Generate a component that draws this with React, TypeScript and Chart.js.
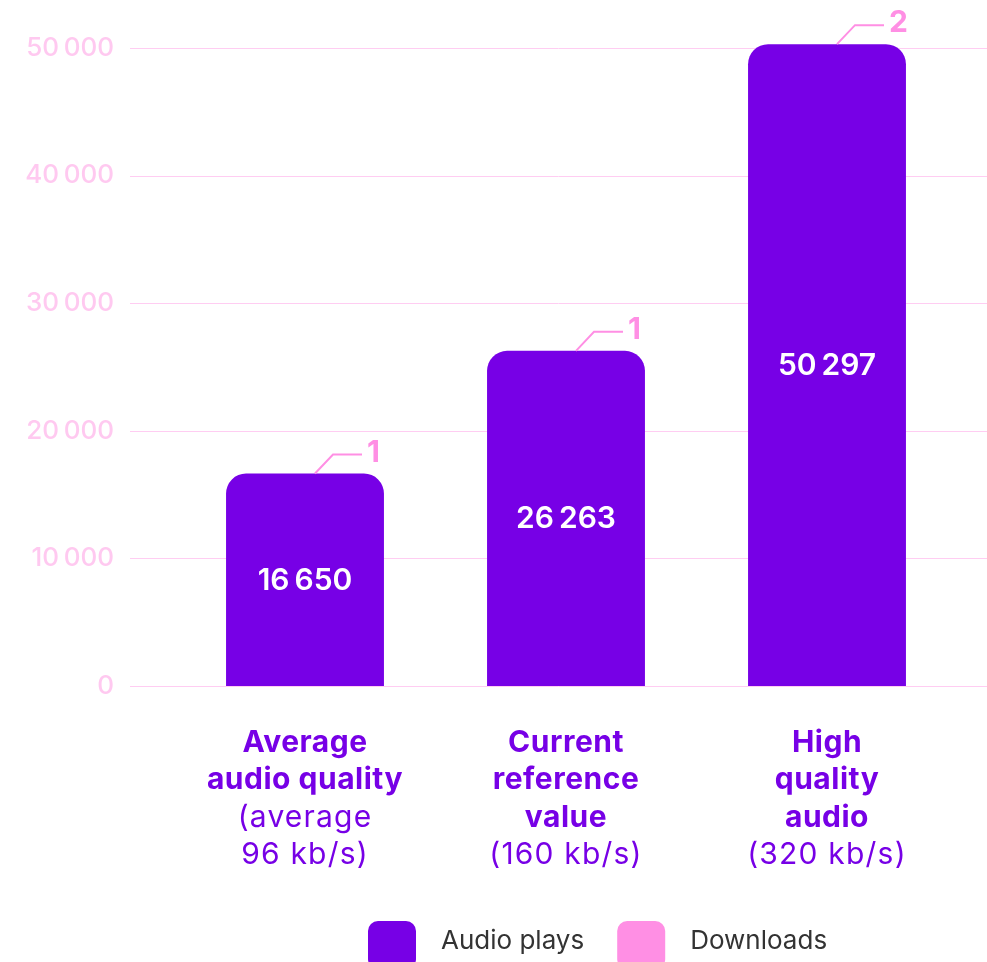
import React, { useEffect, useRef } from "react";
import { Chart, registerables } from "chart.js";

Chart.register(...registerables);

// Categories: bold title lines followed by regular-weight bitrate lines
const CATEGORY_TITLES: string[][] = [
  ["Average", "audio quality"],
  ["Current", "reference", "value"],
  ["High", "quality", "audio"],
];
const CATEGORY_NOTES: string[][] = [
  ["(average", "96 kb/s)"],
  ["(160 kb/s)"],
  ["(320 kb/s)"],
];
const AUDIO_PLAYS: number[] = [16650, 26263, 50297];
const DOWNLOADS: number[] = [1, 1, 2];
const Y_TICKS: number[] = [0, 10000, 20000, 30000, 40000, 50000];
const SERIES_NAMES: string[] = ["Audio plays", "Downloads"];

const PURPLE = "#7700E6";
const PINK = "#FF8FE4";
const GRID_PINK = "#FFCDF2";
const TICK_PINK = "#FFC9F0";
const FONT = "Inter, 'Noto Sans', sans-serif";

const W = 987;
const H = 962;

const fmt = (v: number) =>
  String(v).replace(/\B(?=(\d{3})+(?!\d))/g, "\u202F");

const decorations = {
  id: "decorations",
  beforeDatasetsDraw(chart: any) {
    const { ctx } = chart;
    const y = chart.scales.y;
    ctx.save();
    ctx.strokeStyle = GRID_PINK;
    ctx.lineWidth = 1;
    Y_TICKS.forEach((v) => {
      const py = Math.round(y.getPixelForValue(v)) + 0.5;
      ctx.beginPath();
      ctx.moveTo(130, py);
      ctx.lineTo(W, py);
      ctx.stroke();
    });
    ctx.restore();
  },
  afterDatasetsDraw(chart: any) {
    const { ctx, chartArea } = chart;
    const xs = chart.scales.x;
    const plays = chart.getDatasetMeta(0).data;
    const downs = chart.getDatasetMeta(1).data;
    ctx.save();

    // values inside the purple bars
    ctx.fillStyle = "#FFFFFF";
    ctx.font = `600 30px ${FONT}`;
    ctx.textAlign = "center";
    ctx.textBaseline = "middle";
    plays.forEach((el: any, i: number) => {
      ctx.fillText(fmt(AUDIO_PLAYS[i]), el.x, (el.y + el.base) / 2 + 1);
    });

    // download counts with leader lines from the top of each stack
    ctx.strokeStyle = PINK;
    ctx.fillStyle = PINK;
    ctx.lineWidth = 2;
    ctx.font = `700 30px ${FONT}`;
    ctx.textAlign = "left";
    downs.forEach((el: any, i: number) => {
      const sx = el.x + 10;
      const sy = el.y;
      ctx.beginPath();
      ctx.moveTo(sx, sy);
      ctx.lineTo(sx + 18, sy - 19);
      ctx.lineTo(sx + 47, sy - 19);
      ctx.stroke();
      ctx.fillText(String(DOWNLOADS[i]), sx + 52, sy - 21);
    });

    // category labels
    ctx.fillStyle = PURPLE;
    ctx.textAlign = "center";
    CATEGORY_TITLES.forEach((title, i) => {
      const cx = xs.getPixelForValue(i);
      let ly = chartArea.bottom + 57;
      ctx.font = `700 30px ${FONT}`;
      (ctx as any).letterSpacing = "0.5px";
      title.forEach((line) => {
        ctx.fillText(line, cx, ly);
        ly += 37.3;
      });
      ctx.font = `400 30px ${FONT}`;
      (ctx as any).letterSpacing = "1.2px";
      CATEGORY_NOTES[i].forEach((line) => {
        ctx.fillText(line, cx, ly);
        ly += 37.3;
      });
    });
    (ctx as any).letterSpacing = "0px";

    // legend
    const colors = [PURPLE, PINK];
    let lx = 368;
    const top = 921;
    ctx.font = `400 26px ${FONT}`;
    ctx.textAlign = "left";
    SERIES_NAMES.forEach((name, i) => {
      ctx.fillStyle = colors[i];
      ctx.beginPath();
      (ctx as any).roundRect(lx, top, 48, 48, 10);
      ctx.fill();
      ctx.fillStyle = "#333333";
      ctx.fillText(name, lx + 73, top + 20);
      lx += 73 + ctx.measureText(name).width + 33;
    });

    ctx.restore();
  },
};

export default function App() {
  const ref = useRef<HTMLCanvasElement>(null);

  useEffect(() => {
    if (!ref.current) return;
    const chart = new Chart(ref.current, {
      type: "bar",
      data: {
        labels: CATEGORY_TITLES.map((t) => t.join(" ")),
        datasets: [
          {
            label: SERIES_NAMES[0],
            data: AUDIO_PLAYS,
            backgroundColor: PURPLE,
            borderRadius: { topLeft: 20, topRight: 20, bottomLeft: 0, bottomRight: 0 },
            borderSkipped: false,
            categoryPercentage: 1,
            barPercentage: 0.605,
          },
          {
            label: SERIES_NAMES[1],
            data: DOWNLOADS,
            backgroundColor: PINK,
            categoryPercentage: 1,
            barPercentage: 0.605,
          },
        ],
      },
      options: {
        responsive: false,
        animation: false,
        layout: { padding: { top: 9.7, right: 29.5, bottom: 276, left: 0 } },
        plugins: { legend: { display: false }, tooltip: { enabled: false } },
        scales: {
          x: {
            stacked: true,
            grid: { display: false },
            border: { display: false },
            ticks: { display: false },
            afterFit: (s: any) => {
              s.height = 0;
            },
          },
          y: {
            stacked: true,
            min: 0,
            max: 53000,
            grid: { display: false, drawTicks: false },
            border: { display: false },
            afterBuildTicks: (s: any) => {
              s.ticks = Y_TICKS.map((v) => ({ value: v }));
            },
            afterFit: (s: any) => {
              s.width = 174.5;
              s.paddingTop = 0;
              s.paddingBottom = 0;
            },
            ticks: {
              padding: 60.5,
              color: TICK_PINK,
              font: { family: FONT, size: 26, weight: 500 },
              callback: (v: any) => fmt(Number(v)),
            },
          },
        },
      },
      plugins: [decorations],
    });
    return () => chart.destroy();
  }, []);

  return (
    <div style={{ position: "absolute", left: 0, top: 0, width: W, height: H, overflow: "hidden", background: "#fff" }}>
      <canvas ref={ref} width={W} height={H} style={{ display: "block" }} />
    </div>
  );
}
